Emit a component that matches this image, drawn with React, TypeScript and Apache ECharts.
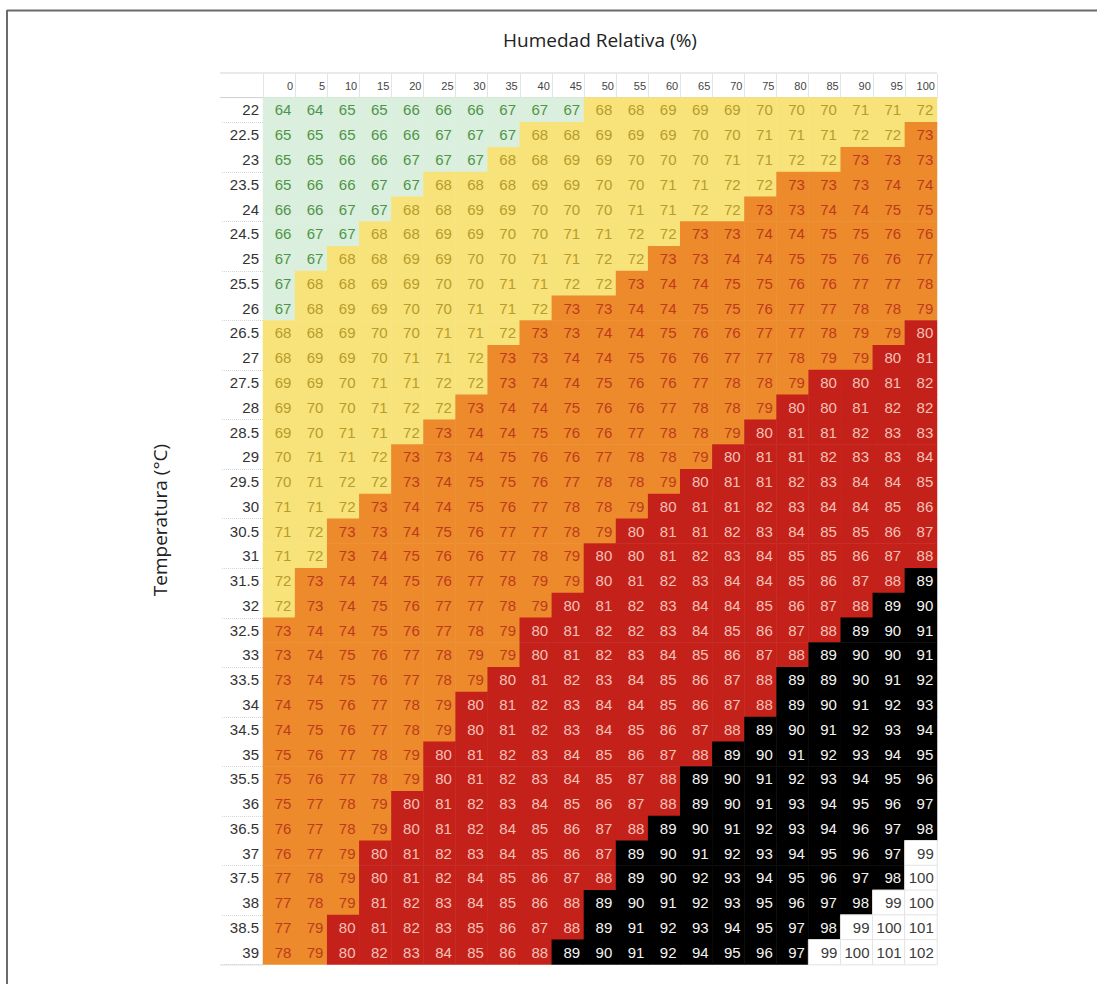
import React, { useEffect, useRef } from "react";
import * as echarts from "echarts";

const humidity = ["0", "5", "10", "15", "20", "25", "30", "35", "40", "45", "50", "55", "60", "65", "70", "75", "80", "85", "90", "95", "100"];
const temperature = ["22", "22.5", "23", "23.5", "24", "24.5", "25", "25.5", "26", "26.5", "27", "27.5", "28", "28.5", "29", "29.5", "30", "30.5", "31", "31.5", "32", "32.5", "33", "33.5", "34", "34.5", "35", "35.5", "36", "36.5", "37", "37.5", "38", "38.5", "39"];

const thiRows: number[][] = [
  [64, 64, 65, 65, 66, 66, 66, 67, 67, 67, 68, 68, 69, 69, 69, 70, 70, 70, 71, 71, 72],
  [65, 65, 65, 66, 66, 67, 67, 67, 68, 68, 69, 69, 69, 70, 70, 71, 71, 71, 72, 72, 73],
  [65, 65, 66, 66, 67, 67, 67, 68, 68, 69, 69, 70, 70, 70, 71, 71, 72, 72, 73, 73, 73],
  [65, 66, 66, 67, 67, 68, 68, 68, 69, 69, 70, 70, 71, 71, 72, 72, 73, 73, 73, 74, 74],
  [66, 66, 67, 67, 68, 68, 69, 69, 70, 70, 70, 71, 71, 72, 72, 73, 73, 74, 74, 75, 75],
  [66, 67, 67, 68, 68, 69, 69, 70, 70, 71, 71, 72, 72, 73, 73, 74, 74, 75, 75, 76, 76],
  [67, 67, 68, 68, 69, 69, 70, 70, 71, 71, 72, 72, 73, 73, 74, 74, 75, 75, 76, 76, 77],
  [67, 68, 68, 69, 69, 70, 70, 71, 71, 72, 72, 73, 74, 74, 75, 75, 76, 76, 77, 77, 78],
  [67, 68, 69, 69, 70, 70, 71, 71, 72, 73, 73, 74, 74, 75, 75, 76, 77, 77, 78, 78, 79],
  [68, 68, 69, 70, 70, 71, 71, 72, 73, 73, 74, 74, 75, 76, 76, 77, 77, 78, 79, 79, 80],
  [68, 69, 69, 70, 71, 71, 72, 73, 73, 74, 74, 75, 76, 76, 77, 77, 78, 79, 79, 80, 81],
  [69, 69, 70, 71, 71, 72, 72, 73, 74, 74, 75, 76, 76, 77, 78, 78, 79, 80, 80, 81, 82],
  [69, 70, 70, 71, 72, 72, 73, 74, 74, 75, 76, 76, 77, 78, 78, 79, 80, 80, 81, 82, 82],
  [69, 70, 71, 71, 72, 73, 74, 74, 75, 76, 76, 77, 78, 78, 79, 80, 81, 81, 82, 83, 83],
  [70, 71, 71, 72, 73, 73, 74, 75, 76, 76, 77, 78, 78, 79, 80, 81, 81, 82, 83, 83, 84],
  [70, 71, 72, 72, 73, 74, 75, 75, 76, 77, 78, 78, 79, 80, 81, 81, 82, 83, 84, 84, 85],
  [71, 71, 72, 73, 74, 74, 75, 76, 77, 78, 78, 79, 80, 81, 81, 82, 83, 84, 84, 85, 86],
  [71, 72, 73, 73, 74, 75, 76, 77, 77, 78, 79, 80, 81, 81, 82, 83, 84, 85, 85, 86, 87],
  [71, 72, 73, 74, 75, 76, 76, 77, 78, 79, 80, 80, 81, 82, 83, 84, 85, 85, 86, 87, 88],
  [72, 73, 74, 74, 75, 76, 77, 78, 79, 79, 80, 81, 82, 83, 84, 84, 85, 86, 87, 88, 89],
  [72, 73, 74, 75, 76, 77, 77, 78, 79, 80, 81, 82, 83, 84, 84, 85, 86, 87, 88, 89, 90],
  [73, 74, 74, 75, 76, 77, 78, 79, 80, 81, 82, 82, 83, 84, 85, 86, 87, 88, 89, 90, 91],
  [73, 74, 75, 76, 77, 78, 79, 79, 80, 81, 82, 83, 84, 85, 86, 87, 88, 89, 90, 90, 91],
  [73, 74, 75, 76, 77, 78, 79, 80, 81, 82, 83, 84, 85, 86, 87, 88, 89, 89, 90, 91, 92],
  [74, 75, 76, 77, 78, 79, 80, 81, 82, 83, 84, 84, 85, 86, 87, 88, 89, 90, 91, 92, 93],
  [74, 75, 76, 77, 78, 79, 80, 81, 82, 83, 84, 85, 86, 87, 88, 89, 90, 91, 92, 93, 94],
  [75, 76, 77, 78, 79, 80, 81, 82, 83, 84, 85, 86, 87, 88, 89, 90, 91, 92, 93, 94, 95],
  [75, 76, 77, 78, 79, 80, 81, 82, 83, 84, 85, 87, 88, 89, 90, 91, 92, 93, 94, 95, 96],
  [75, 77, 78, 79, 80, 81, 82, 83, 84, 85, 86, 87, 88, 89, 90, 91, 93, 94, 95, 96, 97],
  [76, 77, 78, 79, 80, 81, 82, 84, 85, 86, 87, 88, 89, 90, 91, 92, 93, 94, 96, 97, 98],
  [76, 77, 79, 80, 81, 82, 83, 84, 85, 86, 87, 89, 90, 91, 92, 93, 94, 95, 96, 97, 99],
  [77, 78, 79, 80, 81, 82, 84, 85, 86, 87, 88, 89, 90, 92, 93, 94, 95, 96, 97, 98, 100],
  [77, 78, 79, 81, 82, 83, 84, 85, 86, 88, 89, 90, 91, 92, 93, 95, 96, 97, 98, 99, 100],
  [77, 79, 80, 81, 82, 83, 85, 86, 87, 88, 89, 91, 92, 93, 94, 95, 97, 98, 99, 100, 101],
  [78, 79, 80, 82, 83, 84, 85, 86, 88, 89, 90, 91, 92, 94, 95, 96, 97, 99, 100, 101, 102],
];

// class bounds (inclusive), backgrounds and text colours
const classMin = [0, 68, 73, 80, 89, 99];
const classMax = [67, 72, 79, 88, 98, 999];
const classFill = ["#dbefde", "#f7e37a", "#ec8a2c", "#c4211b", "#000000", "#ffffff"];
const classText = ["#4d9545", "#b79b2c", "#bd3a1c", "#f2c2b6", "#f4f4f4", "#3a3a3a"];

const FONT = "'Liberation Sans Narrow', 'Liberation Sans', sans-serif";
const TITLE_FONT = "'Open Sans', 'Noto Sans', sans-serif";

function classOf(v: number): number {
  for (let k = 0; k < classMax.length; k++) if (v <= classMax[k]) return k;
  return classMax.length - 1;
}

export default function App() {
  const ref = useRef<HTMLDivElement>(null);
  useEffect(() => {
    document.body.style.margin = "0";
    if (!ref.current) return;
    const chart = echarts.init(ref.current, undefined, { renderer: "svg" });

    const data: any[] = [];
    thiRows.forEach((row, y) => {
      row.forEach((v, x) => {
        const k = classOf(v);
        data.push({
          value: [x, y, v],
          itemStyle: {
            borderColor: k === 5 ? "#e3e3e3" : classFill[k],
            borderWidth: k === 5 ? 1 : 0,
          },
          label: { color: classText[k] },
        });
      });
    });

    const gridLeft = 263;
    const gridTop = 97.6;
    const gridW = 674;
    const gridH = 867;

    chart.setOption({
      animation: false,
      backgroundColor: "#ffffff",
      grid: { left: gridLeft, top: gridTop, width: gridW, height: gridH },
      visualMap: {
        type: "piecewise",
        show: false,
        dimension: 2,
        seriesIndex: 0,
        pieces: classMin.map((lo, k) => ({ gte: lo, lte: classMax[k], color: classFill[k] })),
      },
      xAxis: {
        type: "category",
        position: "top",
        data: humidity,
        name: "Humedad Relativa (%)",
        nameLocation: "middle",
        nameGap: 48,
        nameTextStyle: { fontFamily: TITLE_FONT, fontSize: 19, color: "#222" },
        axisLine: { show: true, lineStyle: { color: "#cfcfcf", width: 1 } },
        axisTick: { show: true, length: 24, lineStyle: { color: "#e4e4e4" } },
        axisLabel: {
          interval: 0,
          margin: 6,
          formatter: (v: string) => `{a|${v}}`,
          rich: { a: { width: 28, align: "right", fontSize: 11, fontFamily: FONT, color: "#444" } },
        },
        splitLine: { show: false },
      },
      yAxis: {
        type: "category",
        inverse: true,
        data: temperature,
        axisLine: { show: false },
        axisTick: {
          show: true,
          length: 42,
          interval: (i: number) => i % 2 === 1,
          lineStyle: { color: "#d6d6d6", type: "dotted" },
        },
        axisLabel: { interval: 0, margin: 4, fontSize: 15, fontFamily: FONT, color: "#333" },
        splitLine: { show: false },
      },
      graphic: [
        { type: "line", shape: { x1: 7, y1: 10.5, x2: 1097, y2: 10.5 }, style: { stroke: "#6b6b6b", lineWidth: 2 } },
        { type: "line", shape: { x1: 7, y1: 10, x2: 7, y2: 984 }, style: { stroke: "#6b6b6b", lineWidth: 2 } },
        { type: "line", shape: { x1: 220, y1: 73, x2: 937, y2: 73 }, style: { stroke: "#d4d4d4", lineWidth: 1 } },
        { type: "line", shape: { x1: 220, y1: 97.6, x2: 263, y2: 97.6 }, style: { stroke: "#cfcfcf", lineWidth: 1 } },
        { type: "line", shape: { x1: 220, y1: 965, x2: 263, y2: 965 }, style: { stroke: "#dedede", lineWidth: 1 } },
        {
          type: "text",
          x: 160,
          y: 520,
          rotation: Math.PI / 2,
          style: {
            text: "Temperatura (°C)",
            fontFamily: TITLE_FONT,
            fontSize: 19,
            fill: "#222",
            align: "center",
            verticalAlign: "middle",
          },
        },
      ],
      series: [
        {
          type: "heatmap",
          data,
          label: {
            show: true,
            position: "insideRight",
            distance: 4,
            fontSize: 15,
            fontFamily: FONT,
            formatter: (p: any) => String(p.value[2]),
          },
          emphasis: { disabled: true },
        },
      ],
    });
    return () => chart.dispose();
  }, []);
  return <div ref={ref} style={{ width: 1097, height: 984 }} />;
}
